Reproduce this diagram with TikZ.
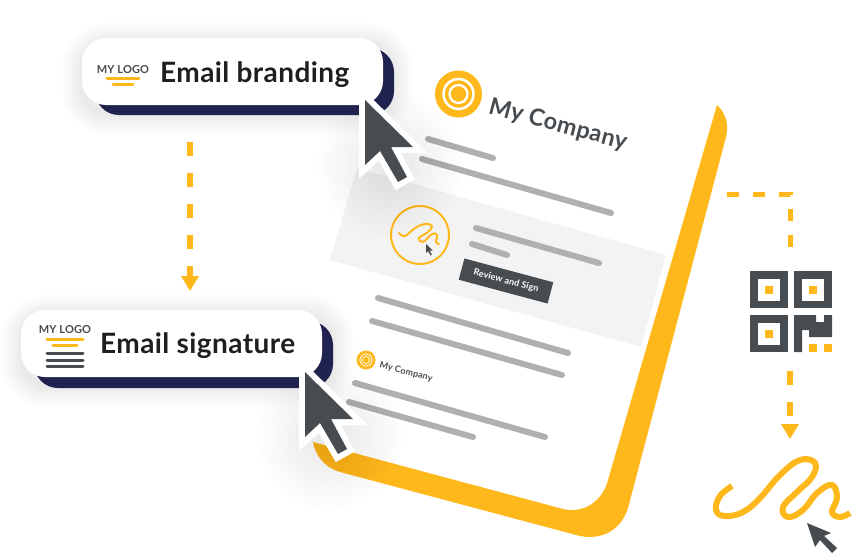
\documentclass[tikz,border=0pt]{standalone}
\usepackage{fontspec}
\setmainfont{Lato}
\newfontfamily\cardfont[LetterSpace=1.5]{Lato Bold}
\usetikzlibrary{arrows.meta}
\definecolor{brandyellow}{HTML}{FFB81C}
\definecolor{cursorgray}{HTML}{474C50}
\definecolor{cardnavy}{HTML}{20224F}
\definecolor{linegray}{HTML}{B0B0B0}
\definecolor{bandgray}{HTML}{F3F3F3}
\tikzset{
    cardtop/.style={fill=white,rounded corners=24pt,inner sep=0pt,minimum width=301pt,minimum height=67pt},
    cardback/.style={fill=cardnavy,rounded corners=24pt,inner sep=0pt,minimum width=299pt,minimum height=67pt},
    cardtext/.style={anchor=base west,inner sep=0pt,text=black!88,font=\cardfont\fontsize{28}{28}\selectfont},
    logotext/.style={inner sep=0pt,text=cursorgray,font=\cardfont\fontsize{11}{11}\selectfont},
    companytext/.style={inner sep=0pt,text=cursorgray,rotate=-15,font=\cardfont},
    textline/.style={draw=linegray,line width=6pt,line cap=round},
    logoline/.style={draw=brandyellow,line width=3pt,line cap=round},
    darkline/.style={draw=cursorgray,line width=3pt,line cap=round},
    flowline/.style={draw=brandyellow,line width=5.5pt,dash pattern=on 14pt off 17pt},
    flowtip/.style={-{Triangle[width=17pt,length=15pt,fill=brandyellow]}},
    arrowcursor/.pic={
        \fill[white,draw=white,line width=12pt,line join=miter] (0,0) -- (48,47) -- (26,47) -- (42,77) -- (33,82) -- (15,51) -- (0,65) -- cycle;
        \fill[cursorgray] (0,0) -- (48,47) -- (26,47) -- (42,77) -- (33,82) -- (15,51) -- (0,65) -- cycle;
    },
    smallcursor/.pic={
        \fill[cursorgray] (0,0) -- (48,47) -- (26,47) -- (42,77) -- (33,82) -- (15,51) -- (0,65) -- cycle;
    }
}
\begin{document}
\begin{tikzpicture}[x=1pt,y=-1pt]
    \useasboundingbox (0,0) rectangle (852,554);
    % document
    \fill[brandyellow] (717,105) .. controls (726,113) and (729,125) .. (726,137) -- (628,508) .. controls (621,531) and (600,541) .. (578,535.5) -- (340,472) .. controls (325,468) and (315,455) .. (313,442) -- (563,509) .. controls (585,514) and (603,500) .. (608,480) -- cycle;
    \fill[bandgray] (357,168) -- (666,255) -- (641,347) -- (330,260) -- cycle;
    \foreach \xa/\ya/\xb/\yb in {428/139/493/158,422/159/611/213,476/228/599/263,472/244/507/255,378/298/568/353,372/321/562/375,355/383/545/437,349/402/473/437}
        \draw[textline] (\xa,\ya) -- (\xb,\yb);
    % large logo
    \node[circle,fill=brandyellow,minimum size=47pt,inner sep=0pt] (biglogo) at (458.5,94) {};
    \draw[white,line width=2.5pt] (biglogo.center) circle [radius=15pt];
    \draw[white,line width=2.2pt] (biglogo.center) circle [radius=9pt];
    \node[companytext,font=\cardfont\fontsize{23.5}{23.5}\selectfont] (bigcompany) at (558,125) {My Company};
    % signing block
    \node[circle,draw=brandyellow,line width=2pt,minimum size=58pt,inner sep=0pt] (signcircle) at (420,235) {};
    \draw[brandyellow,line width=2pt,line cap=round] plot[smooth,tension=.7] coordinates {(399,233) (405,236) (415,228) (425,224) (432,226) (428,232) (419,238) (423,242) (432,234) (437,235) (436,242) (439,244)};
    \pic[scale=.14] at (426,244) {smallcursor};
    \node[fill=cursorgray,text=white,rotate=-15,minimum width=92pt,minimum height=22pt,inner sep=0pt,font=\cardfont\fontsize{9}{9}\selectfont] (reviewbox) at (506,281) {Review and Sign};
    % small logo
    \node[circle,fill=brandyellow,minimum size=19pt,inner sep=0pt] (minilogo) at (366,360) {};
    \draw[white,line width=.8pt] (minilogo.center) circle [radius=6pt];
    \draw[white,line width=.7pt] (minilogo.center) circle [radius=3.6pt];
    \node[companytext,font=\cardfont\fontsize{9}{9}\selectfont] (minicompany) at (406,372) {My Company};
    % soft shadows
    \foreach \r in {6,12,...,72} {
        \fill[black,opacity=.009] (390,165) circle [radius=\r];
        \fill[black,opacity=.009] (330,437) circle [radius=\r];
    }
    \foreach \w in {4,8,...,44} {
        \draw[black,opacity=.009,line width=\w pt,rounded corners=24pt] (84,45) rectangle (391,113);
        \draw[black,opacity=.009,line width=\w pt,rounded corners=24pt] (23,317) rectangle (331,385);
    }
    % cards
    \node[cardback] (brandingback) at (244.5,81.5) {};
    \node[cardtop] (brandingcard) at (232.5,71.5) {};
    \node[cardback] (signatureback) at (183.5,354.5) {};
    \node[cardtop] (signaturecard) at (171.5,343.5) {};
    \node[cardtext] (brandingtext) at (160,82) {Email branding};
    \node[cardtext] (signaturetext) at (100,353) {Email signature};
    \node[logotext] (brandinglogo) at (123,69.5) {MY LOGO};
    \node[logotext] (signaturelogo) at (65,329.5) {MY LOGO};
    \draw[logoline] (107,78) -- (139,78);
    \draw[logoline] (113,84) -- (133,84);
    \draw[logoline] (47,339) -- (83,339);
    \draw[logoline] (53,345) -- (77,345);
    \foreach \y in {353,360,366}
        \draw[darkline] (47,\y) -- (83,\y);
    % qr code
    \foreach \xq/\yq in {750/271,794/271,750/315} {
        \fill[cursorgray] (\xq,\yq) rectangle ++(37.5,37);
        \fill[white] (\xq+7.5,\yq+7.5) rectangle ++(22,22);
        \fill[brandyellow] (\xq+15,\yq+15) rectangle ++(7.5,7.5);
    }
    \fill[cursorgray] (794,315) -- (816,315) -- (816,322) -- (824,322) -- (824,315) -- (832,315) -- (832,337) -- (809,337) -- (809,330) -- (802,330) -- (802,352) -- (794,352) -- cycle;
    \fill[brandyellow] (809,344) rectangle (817,352);
    \fill[brandyellow] (824,344) rectangle (832,352);
    \node[inner sep=0pt,minimum width=82pt,minimum height=81pt] (qrcode) at (791,311.5) {};
    % signature
    \draw[brandyellow,line width=6pt] plot[smooth,tension=.7] coordinates {(732,486) (720,496) (716,510) (725,516) (743,512) (760,498) (780,475) (800,460) (815,463) (812,477) (797,492) (783,507) (788,517) (803,510) (817,493) (832,485) (837,498) (832,512) (840,517) (850,513)};
    \fill[cursorgray] (807,523) -- (831,533) -- (824,536) -- (837,548) -- (832,553) -- (820,540) -- (815,547) -- cycle;
    % connectors
    \coordinate (flowastart) at (190,142);
    \coordinate (flowaend) at (190,291);
    \coordinate (flowbstart) at (727,194);
    \coordinate (flowbend) at (790,247);
    \coordinate (flowcstart) at (790,371);
    \coordinate (flowcend) at (790,439);
    \draw[flowline,flowtip] (flowastart) -- (flowaend);
    \draw[flowline,line width=5pt,dash pattern=on 12pt off 14pt] (flowbstart) -| (flowbend);
    \draw[flowline,flowtip] (flowcstart) -- (flowcend);
    % cursors
    \pic at (365,100) {arrowcursor};
    \pic at (305,372) {arrowcursor};
\end{tikzpicture}
\end{document}
